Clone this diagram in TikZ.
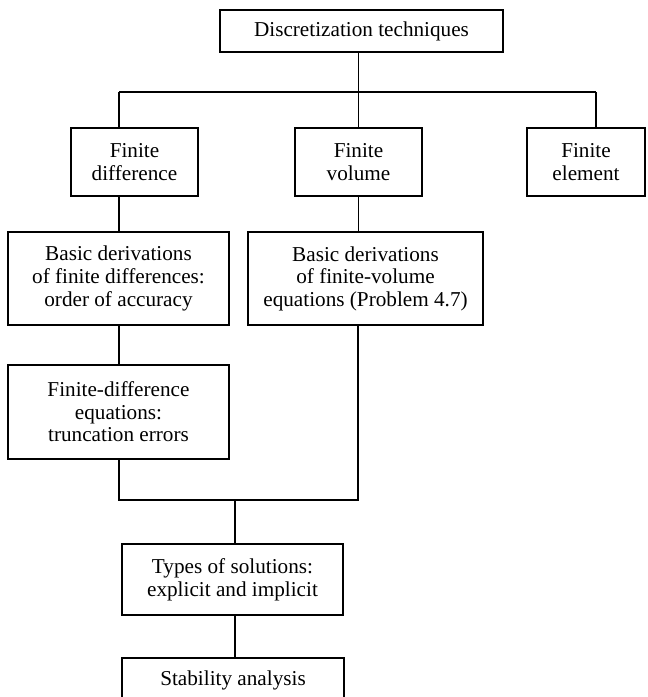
\documentclass[tikz,border=0pt]{standalone}
\usepackage{fontspec}
\setmainfont{Liberation Serif}
\usepackage{tikz}

\begin{document}
\begin{tikzpicture}[x=0.5pt,y=-0.5pt,line width=0.6pt,font=\fontsize{10.6pt}{11.3pt}\selectfont,box/.style={draw,align=center,inner sep=0pt}]
\useasboundingbox (0,0) rectangle (648,697);
\node[box,minimum width=141.5pt,minimum height=21pt] (top) at (361.5,31) {Discretization techniques};
\node[box,minimum width=63.5pt,minimum height=34pt] (fd) at (134.5,162) {Finite\\difference};
\node[box,minimum width=63.5pt,minimum height=34pt] (fv) at (358.5,162) {Finite\\volume};
\node[box,minimum width=59pt,minimum height=34pt] (fe) at (586,162) {Finite\\element};
\node[box,minimum width=110.5pt,minimum height=46.5pt] (bfd) at (118.5,278.5) {Basic derivations\\of finite differences:\\order of accuracy};
\node[box,minimum width=117.5pt,minimum height=46.5pt] (bfv) at (365.5,278.5) {Basic derivations\\of finite-volume\\equations (Problem 4.7)};
\node[box,minimum width=110.5pt,minimum height=47pt] (fde) at (118.5,412) {Finite-difference\\equations:\\truncation errors};
\node[box,minimum width=110.5pt,minimum height=35.5pt] (types) at (232.5,579.5) {Types of solutions:\\explicit and implicit};
\node[box,minimum width=111pt,minimum height=22pt] (stab) at (233,680) {Stability analysis};
\coordinate (busL) at (119,92);
\coordinate (busR) at (596,92);
\coordinate (mrgL) at (119,500);
\coordinate (mrgR) at (358,500);
\coordinate (mrgC) at (235,500);
\draw (top.south -| fv.north) -- (fv.north);
\draw (busL) -- (busR);
\draw (busL) -- (busL |- fd.north);
\draw (busR) -- (busR |- fe.north);
\draw (fd.south -| busL) -- (bfd.north -| busL);
\draw (fv.south) -- (bfv.north -| fv.south);
\draw (bfd.south -| busL) -- (fde.north -| busL);
\draw (fde.south -| mrgL) -- (mrgL) -- (mrgR) -- (bfv.south -| mrgR);
\draw (mrgC) -- (types.north -| mrgC);
\draw (types.south -| mrgC) -- (stab.north -| mrgC);
\end{tikzpicture}
\end{document}
